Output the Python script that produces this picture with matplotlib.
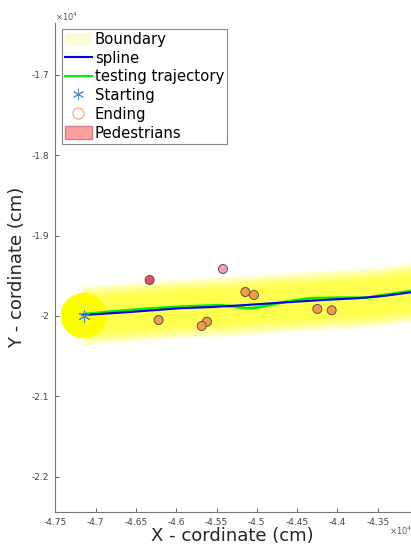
import numpy as np
import matplotlib.pyplot as plt
from matplotlib.patches import Circle, Patch
from matplotlib.lines import Line2D

# --- data (cm) ---
start_pt = (-47150, -19995)
boundary_radius = 283

spline_x = [-47157, -46619, -45957, -45544, -45130, -44716, -44179, -43765, -43434, -43091, -42900]
spline_y = [-19988, -19954, -19904, -19888, -19863, -19835, -19801, -19780, -19752, -19706, -19680]

traj_x = [-47157, -46826, -46413, -45957, -45709, -45461, -45300, -45213, -45120, -45051, -44960,
          -44840, -44633, -44344, -43972, -43640, -43351, -43091, -42900]
traj_y = [-19979, -19947, -19913, -19885, -19876, -19866, -19880, -19893, -19903, -19902, -19888,
          -19863, -19822, -19780, -19773, -19773, -19730, -19690, -19665]

ped_x = [-46330, -45420, -45142, -45035, -46218, -45619, -45684, -44249, -44071]
ped_y = [-19553, -19416, -19702, -19739, -20050, -20071, -20124, -19913, -19929]
ped_c = ['#e2505e', '#f2a2a8', '#f59a48', '#f59a48', '#f59a48', '#f59a48', '#f59a48', '#f59a48', '#f59a48']

xticks = [-47500, -47000, -46500, -46000, -45500, -45000, -44500, -44000, -43500]
xtick_labels = ['-4.75', '-4.7', '-4.65', '-4.6', '-4.55', '-4.5', '-4.45', '-4.4', '-4.35']
yticks = [-22000, -21000, -20000, -19000, -18000, -17000]
ytick_labels = ['-2.2', '-2.1', '-2', '-1.9', '-1.8', '-1.7']

fig = plt.figure(figsize=(4.11, 5.48), dpi=100)
ax = fig.add_axes([54.5 / 411, 1 - 512 / 548, 356.5 / 411, 489 / 548])

# boundary: soft yellow band along the spline + disc at the start
sx = np.array(spline_x)
sy = np.array(spline_y)
for hw in range(370, 200, -20):
    ax.fill_between(sx, sy - hw, sy + hw, color='#ffff00', alpha=0.12, lw=0, zorder=1)
ax.add_patch(Circle(start_pt, boundary_radius, color='#ffff00', lw=0, zorder=1.5))

ax.plot(traj_x, traj_y, color='#00ee00', lw=2.0, zorder=3)
ax.plot(spline_x, spline_y, color='#0000ee', lw=1.5, zorder=4)
ax.plot(*start_pt, marker=(6, 2, 0), color='#4a90d0', ms=9, mew=0.8, zorder=5)
ax.scatter(ped_x, ped_y, s=42, c=ped_c, edgecolors='#555555', linewidths=0.7, zorder=6)

ax.set_xlim(-47510, -43087)
ax.set_ylim(-22435, -16360)
ax.set_xticks(xticks, xtick_labels)
ax.set_yticks(yticks, ytick_labels)
ax.tick_params(direction='in', length=3, width=0.6, labelsize=6.5,
               colors='#444444', pad=4)
for s in ['top', 'right']:
    ax.spines[s].set_visible(False)
for s in ['left', 'bottom']:
    ax.spines[s].set_color('#777777')
    ax.spines[s].set_linewidth(0.8)

ax.set_xlabel('X - cordinate (cm)', fontsize=13, color='#262626', labelpad=0)
ax.set_ylabel('Y - cordinate (cm)', fontsize=13, color='#262626', labelpad=4)
fig.text(55 / 411, 1 - 17 / 548, r'$\times10^4$', fontsize=6, color='#555555', va='center')
fig.text(389 / 411, 1 - 531 / 548, r'$\times10^4$', fontsize=6, color='#555555', va='center')

handles = [
    Patch(facecolor='#fffbd6', edgecolor='none'),
    Line2D([], [], color='#0000ee', lw=1.5),
    Line2D([], [], color='#00ee00', lw=1.5),
    Line2D([], [], marker=(6, 2, 0), color='#4a90d0', ls='none', ms=8, mew=0.7),
    Line2D([], [], marker='o', mfc='none', mec='#f0a080', ls='none', ms=8, mew=0.8),
    Patch(facecolor='#ffa0a0', edgecolor='#d08080'),
]
labels = ['Boundary', 'spline', 'testing trajectory', 'Starting', 'Ending', 'Pedestrians']
leg = ax.legend(handles, labels, loc='upper left', bbox_to_anchor=(62 / 411, 1 - 29 / 548),
                bbox_transform=fig.transFigure, borderaxespad=0, fontsize=10.7,
                handlelength=1.8, handleheight=0.9, handletextpad=0.2, labelspacing=0.25,
                borderpad=0.2, fancybox=False, framealpha=1, edgecolor='#888888')
leg.get_frame().set_linewidth(0.8)
leg.set_zorder(10)

fig.savefig('out.png', dpi=100)
